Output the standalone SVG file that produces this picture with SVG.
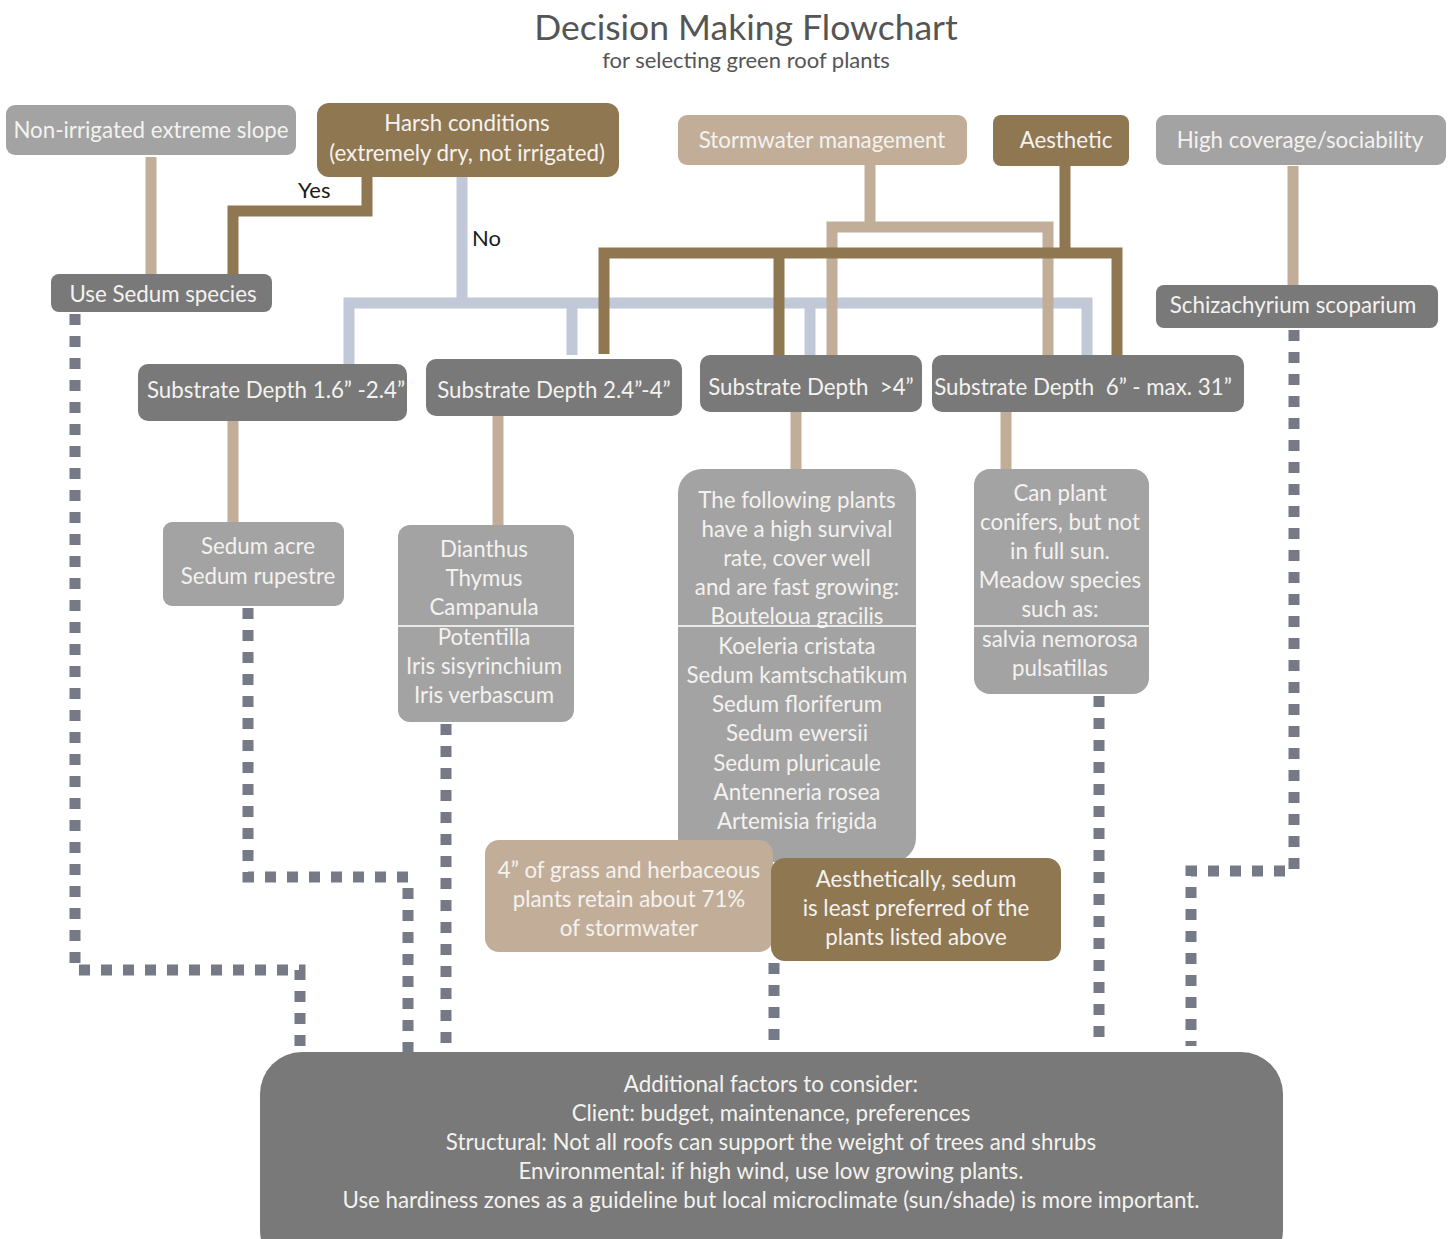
<svg xmlns="http://www.w3.org/2000/svg" width="1450" height="1239" viewBox="0 0 1450 1239">
<style>
text{font-family:Lato,"Open Sans","Liberation Sans",sans-serif;text-anchor:middle;white-space:pre}
.t{font-size:22.3px;fill:#f4f2ef}
.lbl{font-size:22px;fill:#1a1a1a;text-anchor:start}
.lg{fill:#a3a3a3}
.dg{fill:#787978}
.br{fill:#8f7752}
.tn{fill:#c2ae98}
.ctan{stroke:#c2ae98;stroke-width:11;fill:none}
.cbr{stroke:#8f7752;stroke-width:11;fill:none}
.cbl{stroke:#c1c8d8;stroke-width:11;fill:none}
.dot{stroke:#767a87;stroke-width:11;fill:none;stroke-dasharray:11 11}
.div{stroke:#ffffff;stroke-width:1.5}
</style>
<rect width="1450" height="1239" fill="#ffffff"/>
<g id="title">
<text x="746" y="40" style="font-size:35.5px;fill:#555555">Decision Making Flowchart</text>
<text x="746" y="68" style="font-size:22px;fill:#555555">for selecting green roof plants</text>
</g>
<g id="connectors">
<path class="ctan" d="M151 157V274"/>
<path class="cbr" d="M367 177V211H233V274"/>
<path class="cbl" d="M462 177V303"/>
<path class="cbl" d="M349 364V303H1087V355"/>
<path class="cbl" d="M572 303V355"/>
<path class="cbl" d="M810 303V355"/>
<path class="ctan" d="M870 165V227"/>
<path class="ctan" d="M832 355V227H1048V355"/>
<path class="cbr" d="M1065 166V253"/>
<path class="cbr" d="M604 354V253H1117V355"/>
<path class="cbr" d="M779 253V355"/>
<path class="ctan" d="M1293 166V285"/>
<path class="ctan" d="M233 421V522"/>
<path class="ctan" d="M498 410V525"/>
<path class="ctan" d="M796 412V469"/>
<path class="ctan" d="M1006 412V469"/>
<path class="dot" d="M75 314V970H300V1052"/>
<path class="dot" d="M248 608V877H408V1052"/>
<path class="dot" d="M446 724V1050"/>
<path class="dot" d="M774 963V1046"/>
<path class="dot" d="M1099 696V1046"/>
<path class="dot" d="M1294 330V871H1191V1046"/>
<text class="lbl" x="298" y="198">Yes</text>
<text class="lbl" x="472" y="246">No</text>
</g>
<g id="n-slope"><rect class="lg" x="6" y="105" width="290" height="50" rx="9"/><text class="t" x="151" y="138">Non-irrigated extreme slope</text></g>
<g id="n-harsh"><rect class="br" x="317" y="103" width="302" height="74" rx="12"/><text class="t" x="467" y="131">Harsh conditions</text><text class="t" x="467" y="161">(extremely dry, not irrigated)</text></g>
<g id="n-storm"><rect class="tn" x="678" y="115" width="289" height="50" rx="9"/><text class="t" x="822" y="148">Stormwater management</text></g>
<g id="n-aesthetic"><rect class="br" x="993" y="115" width="136" height="51" rx="8"/><text class="t" x="1066" y="148">Aesthetic</text></g>
<g id="n-coverage"><rect class="lg" x="1156" y="115" width="290" height="50" rx="9"/><text class="t" x="1300" y="148">High coverage/sociability</text></g>
<g id="n-sedum"><rect class="dg" x="51" y="274" width="221" height="38" rx="8"/><text class="t" x="163" y="302">Use Sedum species</text></g>
<g id="n-schiz"><rect class="dg" x="1156" y="285" width="282" height="43" rx="8"/><text class="t" x="1293" y="313">Schizachyrium scoparium</text></g>
<g id="n-d1"><rect class="dg" x="138" y="364" width="269" height="57" rx="10"/><text class="t" x="276" y="398">Substrate Depth 1.6” -2.4”</text></g>
<g id="n-d2"><rect class="dg" x="426" y="359" width="256" height="57" rx="10"/><text class="t" x="554" y="398">Substrate Depth 2.4”-4”</text></g>
<g id="n-d3"><rect class="dg" x="700" y="355" width="222" height="57" rx="10"/><text class="t" x="811" y="395">Substrate Depth  &gt;4”</text></g>
<g id="n-d4"><rect class="dg" x="932" y="355" width="312" height="57" rx="10"/><text class="t" x="1083" y="395">Substrate Depth  6” - max. 31”</text></g>
<g id="n-acre"><rect class="lg" x="163" y="522" width="181" height="84" rx="9"/><text class="t" x="258" y="554">Sedum acre</text><text class="t" x="258" y="584">Sedum rupestre</text></g>
<g id="n-dianthus"><rect class="lg" x="398" y="525" width="176" height="197" rx="12"/>
<text class="t" x="484" y="557">Dianthus</text><text class="t" x="484" y="586">Thymus</text><text class="t" x="484" y="615">Campanula</text>
<line class="div" x1="398" y1="626" x2="574" y2="626"/>
<text class="t" x="484" y="645">Potentilla</text><text class="t" x="484" y="674">Iris sisyrinchium</text><text class="t" x="484" y="703">Iris verbascum</text></g>
<g id="n-following"><rect class="lg" x="678" y="469" width="238" height="393" rx="24"/>
<text class="t" x="797" y="508">The following plants</text><text class="t" x="797" y="537">have a high survival</text><text class="t" x="797" y="566">rate, cover well</text><text class="t" x="797" y="595">and are fast growing:</text><text class="t" x="797" y="624">Bouteloua gracilis</text>
<line class="div" x1="678" y1="626" x2="916" y2="626"/>
<text class="t" x="797" y="654">Koeleria cristata</text><text class="t" x="797" y="683">Sedum kamtschatikum</text><text class="t" x="797" y="712">Sedum floriferum</text><text class="t" x="797" y="741">Sedum ewersii</text><text class="t" x="797" y="771">Sedum pluricaule</text><text class="t" x="797" y="800">Antenneria rosea</text><text class="t" x="797" y="829">Artemisia frigida</text></g>
<g id="n-conifers"><rect class="lg" x="974" y="469" width="175" height="225" rx="16"/>
<text class="t" x="1060" y="501">Can plant</text><text class="t" x="1060" y="530">conifers, but not</text><text class="t" x="1060" y="559">in full sun.</text><text class="t" x="1060" y="588">Meadow species</text><text class="t" x="1060" y="617">such as:</text>
<line class="div" x1="974" y1="626" x2="1149" y2="626"/>
<text class="t" x="1060" y="647">salvia nemorosa</text><text class="t" x="1060" y="676">pulsatillas</text></g>
<g id="n-grass"><rect class="tn" x="485" y="840" width="288" height="112" rx="14"/><text class="t" x="629" y="878">4” of grass and herbaceous</text><text class="t" x="629" y="907">plants retain about 71%</text><text class="t" x="629" y="936">of stormwater</text></g>
<g id="n-aes2"><rect class="br" x="771" y="858" width="290" height="103" rx="14"/><text class="t" x="916" y="887">Aesthetically, sedum</text><text class="t" x="916" y="916">is least preferred of the</text><text class="t" x="916" y="945">plants listed above</text></g>
<g id="n-factors"><rect class="dg" x="260" y="1052" width="1023" height="220" rx="42"/>
<text class="t" x="771" y="1092">Additional factors to consider:</text>
<text class="t" x="771" y="1121">Client: budget, maintenance, preferences</text>
<text class="t" x="771" y="1150">Structural: Not all roofs can support the weight of trees and shrubs</text>
<text class="t" x="771" y="1179">Environmental: if high wind, use low growing plants.</text>
<text class="t" x="771" y="1208">Use hardiness zones as a guideline but local microclimate (sun/shade) is more important.</text></g>
</svg>
